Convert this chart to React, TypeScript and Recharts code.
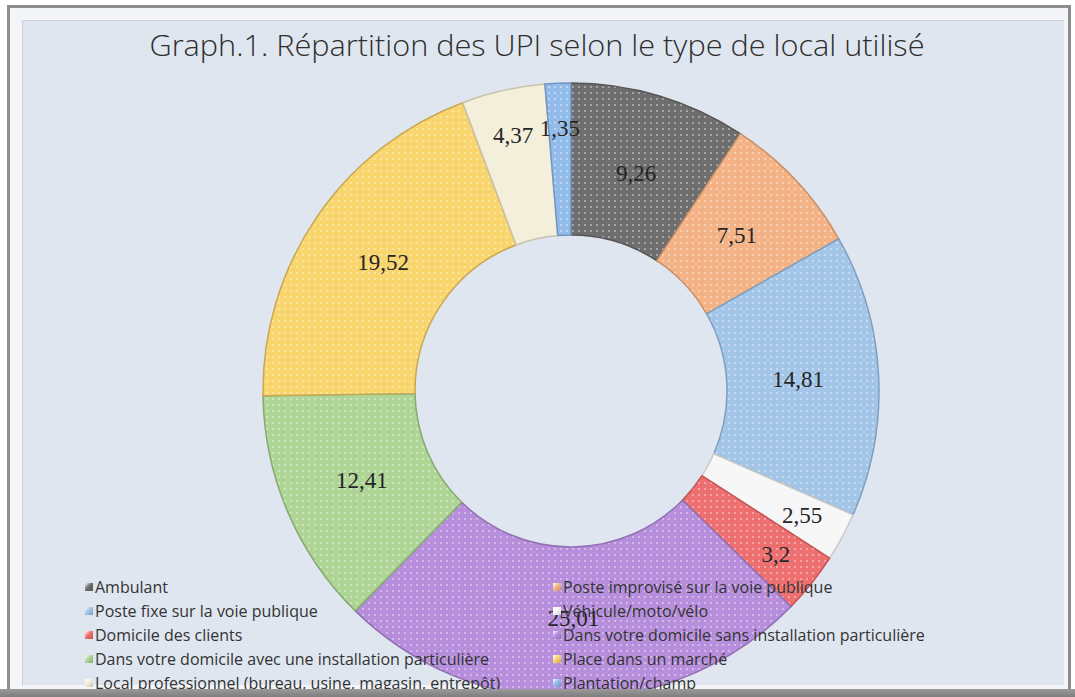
import React from 'react';
import { PieChart, Pie, Cell, Legend } from 'recharts';

const categories = [
  'Ambulant',
  'Poste improvisé sur la voie publique',
  'Poste fixe sur la voie publique',
  'Véhicule/moto/vélo',
  'Domicile des clients',
  'Dans votre domicile sans installation particulière',
  'Dans votre domicile avec une installation particulière',
  'Place dans un marché',
  'Local professionnel (bureau, usine, magasin, entrepôt)',
  'Plantation/champ',
];
const values = [9.26, 7.51, 14.81, 2.55, 3.2, 25.01, 12.41, 19.52, 4.37, 1.35];

const palette = ['#6e6e6e', '#f3b386', '#a3c5e8', '#f7f7f7', '#ee6f6f', '#b68edc', '#aed596', '#f9d56e', '#f4efda', '#93bbe9'];
const strokes = ['#555', '#c98f66', '#7f9fc2', '#c9c9c9', '#c45252', '#9170b3', '#86aa70', '#c9a850', '#c8c2aa', '#6f96c4'];
const dotted = [true, true, true, false, true, true, true, true, false, true];

const data = categories.map((name, i) => ({ name, value: values[i] }));

const TITLE = 'Graph.1. Répartition des UPI selon le type de local utilisé';
const RADIAN = Math.PI / 180;

const renderLabel = (props: any) => {
  const { cx, cy, midAngle, innerRadius, outerRadius, value } = props;
  // small slices: label pushed outward, as the reference does
  const f = value < 5 ? 0.7 : 0.47;
  const r = innerRadius + (outerRadius - innerRadius) * f;
  const x = cx + r * Math.cos(-midAngle * RADIAN);
  const y = cy + r * Math.sin(-midAngle * RADIAN);
  return (
    <text x={x} y={y} textAnchor="middle" dominantBaseline="central" fill="#262626"
      style={{ fontFamily: '"Liberation Serif", "DejaVu Serif", serif', fontSize: 23 }}>
      {String(value).replace('.', ',')}
    </text>
  );
};

const renderLegend = () => (
  <div style={{ display: 'grid', gridTemplateColumns: '468px 468px' }}>
    {categories.map((name, i) => (
      <div key={name} style={{ display: 'flex', alignItems: 'center', height: 24,
        fontFamily: '"Open Sans", "Lato", sans-serif', fontSize: 16, color: '#333333', whiteSpace: 'nowrap' }}>
        <span style={{ display: 'inline-block', width: 8, height: 8, marginRight: 2, flex: '0 0 auto',
          background: `linear-gradient(135deg, #ffffff 0%, ${palette[i]} 45%, ${strokes[i]} 100%)` }} />
        {name}
      </div>
    ))}
  </div>
);

export default function App() {
  return (
    <div style={{ position: 'absolute', left: 0, top: 0, width: 1075, height: 697, background: '#ffffff', overflow: 'hidden' }}>
      <svg width={0} height={0} style={{ position: 'absolute' }}>
        <defs>
          {palette.map((c, i) => (
            <pattern key={i} id={`dots${i}`} width={6} height={6} patternUnits="userSpaceOnUse">
              <rect width={6} height={6} fill={c} />
              {dotted[i] && <circle cx={3} cy={3} r={0.9} fill="#ffffff" opacity={0.55} />}
            </pattern>
          ))}
        </defs>
      </svg>
      <div style={{ position: 'absolute', left: 7, top: 5, width: 1058, height: 700,
        border: '3px solid #8e8e8e', background: '#f3f5f8', boxSizing: 'content-box' }} />
      <div style={{ position: 'absolute', left: 22, top: 20, width: 1041, height: 664,
        background: '#dfe6ef', borderTop: '1px solid #c9d0da', borderLeft: '1px solid #c9d0da' }} />
      <svg width={1075} height={80} style={{ position: 'absolute', left: 0, top: 0 }}>
        <text x={537} y={56} textAnchor="middle" textLength={775} lengthAdjust="spacingAndGlyphs"
          fill="#2e2e2e" style={{ fontFamily: '"Open Sans", "Lato", sans-serif', fontSize: 30, fontWeight: 300 }}>
          {TITLE}
        </text>
      </svg>
      <div style={{ position: 'absolute', left: 0, top: 0 }}>
        <PieChart width={1075} height={697}>
          <Pie data={data} dataKey="value" nameKey="name" cx={566} cy={386}
            innerRadius={156} outerRadius={308} startAngle={90} endAngle={-270}
            isAnimationActive={false} label={renderLabel} labelLine={false}>
            {data.map((d, i) => (
              <Cell key={d.name} fill={`url(#dots${i})`} stroke={strokes[i]} strokeWidth={1.5} />
            ))}
          </Pie>
          <Legend content={renderLegend}
            wrapperStyle={{ position: 'absolute', left: 85, top: 575, width: 960, height: 120 }} />
        </PieChart>
      </div>
      <div style={{ position: 'absolute', left: 0, top: 689, width: 1075, height: 8,
        background: 'linear-gradient(#9a9a9a, #7e7e7e)' }} />
    </div>
  );
}
